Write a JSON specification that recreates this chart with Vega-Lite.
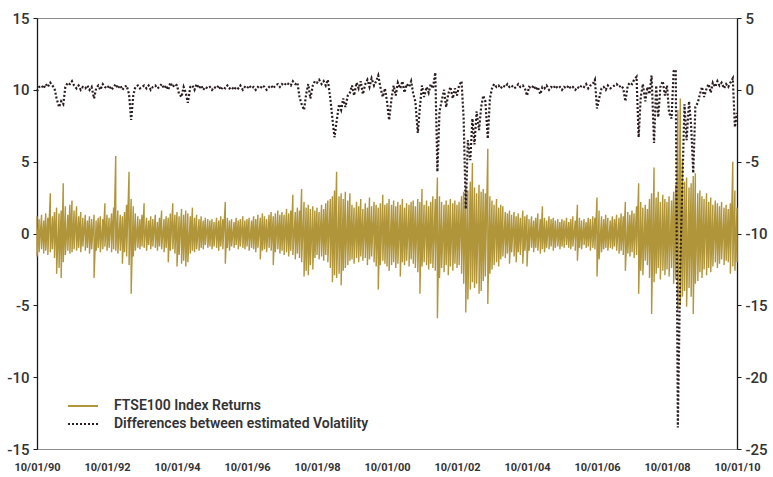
{
  "$schema": "https://vega.github.io/schema/vega-lite/v6.json",
  "width": 700,
  "height": 431,
  "autosize": {"type": "none"},
  "padding": {"left": 37, "top": 18, "right": 36, "bottom": 28},
  "background": "white",
  "config": {
    "font": "Roboto",
    "view": {"stroke": "#8c8c8c", "strokeWidth": 1},
    "axis": {"grid": false, "labelFont": "Roboto", "labelColor": "#333333"},
    "legend": {"labelFont": "Roboto", "labelFontSize": 14, "labelFontWeight": 600, "labelColor": "#333333", "labelLimit": 400}
  },
  "data": {"values": [
{"t":1990.00,"h":1.2,"l":-1.6,"d":-0.1},{"t":1990.06,"h":1.0,"l":-1.3,"d":0.2},{"t":1990.13,"h":1.3,"l":-1.1,"d":0.3},{"t":1990.19,"h":0.9,"l":-1.4,"d":0.1},
{"t":1990.25,"h":1.4,"l":-1.2,"d":0.4},{"t":1990.31,"h":1.1,"l":-1.5,"d":0.2},{"t":1990.38,"h":2.8,"l":-1.3,"d":0.5},{"t":1990.44,"h":1.2,"l":-1.1,"d":0.3},
{"t":1990.50,"h":1.5,"l":-1.7,"d":0.1},{"t":1990.56,"h":1.8,"l":-2.8,"d":-0.6},{"t":1990.63,"h":1.4,"l":-2.4,"d":-1.2},{"t":1990.69,"h":1.6,"l":-3.1,"d":-0.8},
{"t":1990.75,"h":3.5,"l":-2.0,"d":-1.0},{"t":1990.81,"h":1.9,"l":-1.5,"d":0.2},{"t":1990.88,"h":1.3,"l":-1.2,"d":0.5},{"t":1990.94,"h":2.0,"l":-1.4,"d":0.4},
{"t":1991.00,"h":2.3,"l":-1.3,"d":0.6},{"t":1991.06,"h":1.6,"l":-1.1,"d":0.3},{"t":1991.13,"h":1.9,"l":-1.2,"d":0.1},{"t":1991.19,"h":1.2,"l":-1.0,"d":0.3},
{"t":1991.25,"h":1.5,"l":-1.3,"d":0.0},{"t":1991.31,"h":1.1,"l":-0.9,"d":0.2},{"t":1991.38,"h":1.3,"l":-1.2,"d":0.1},{"t":1991.44,"h":0.9,"l":-1.0,"d":0.3},
{"t":1991.50,"h":1.2,"l":-1.4,"d":0.0},{"t":1991.56,"h":1.0,"l":-1.1,"d":0.2},{"t":1991.63,"h":1.3,"l":-3.1,"d":-0.6},{"t":1991.69,"h":0.9,"l":-1.2,"d":0.1},
{"t":1991.75,"h":1.1,"l":-1.0,"d":0.3},{"t":1991.81,"h":1.2,"l":-1.3,"d":0.0},{"t":1991.88,"h":1.0,"l":-1.1,"d":0.4},{"t":1991.94,"h":2.1,"l":-0.9,"d":0.2},
{"t":1992.00,"h":1.3,"l":-1.2,"d":0.1},{"t":1992.06,"h":1.1,"l":-1.0,"d":0.3},{"t":1992.13,"h":1.4,"l":-1.3,"d":0.0},{"t":1992.19,"h":1.8,"l":-1.1,"d":0.2},
{"t":1992.25,"h":5.4,"l":-1.2,"d":0.4},{"t":1992.31,"h":1.6,"l":-1.4,"d":0.1},{"t":1992.38,"h":1.3,"l":-1.2,"d":0.3},{"t":1992.44,"h":1.2,"l":-2.1,"d":0.0},
{"t":1992.50,"h":1.5,"l":-1.3,"d":0.2},{"t":1992.56,"h":2.0,"l":-1.6,"d":0.3},{"t":1992.63,"h":4.3,"l":-2.2,"d":-0.3},{"t":1992.69,"h":2.4,"l":-4.2,"d":-2.1},
{"t":1992.75,"h":1.9,"l":-1.6,"d":-0.4},{"t":1992.81,"h":1.4,"l":-1.2,"d":0.2},{"t":1992.88,"h":1.2,"l":-1.0,"d":0.3},{"t":1992.94,"h":1.0,"l":-1.1,"d":0.1},
{"t":1993.00,"h":1.3,"l":-0.9,"d":0.2},{"t":1993.06,"h":2.1,"l":-1.0,"d":0.3},{"t":1993.13,"h":1.1,"l":-1.2,"d":0.1},{"t":1993.19,"h":0.9,"l":-0.8,"d":0.3},
{"t":1993.25,"h":1.2,"l":-1.1,"d":0.0},{"t":1993.31,"h":1.0,"l":-0.9,"d":0.2},{"t":1993.38,"h":1.3,"l":-1.0,"d":0.3},{"t":1993.44,"h":0.8,"l":-1.2,"d":0.1},
{"t":1993.50,"h":1.1,"l":-0.9,"d":0.2},{"t":1993.56,"h":1.6,"l":-1.1,"d":0.4},{"t":1993.63,"h":1.0,"l":-1.3,"d":0.1},{"t":1993.69,"h":1.2,"l":-1.0,"d":0.3},
{"t":1993.75,"h":1.1,"l":-2.0,"d":0.0},{"t":1993.81,"h":1.4,"l":-1.2,"d":0.5},{"t":1993.88,"h":2.1,"l":-1.1,"d":0.2},{"t":1993.94,"h":1.3,"l":-1.4,"d":0.4},
{"t":1994.00,"h":1.5,"l":-2.3,"d":0.3},{"t":1994.06,"h":1.2,"l":-1.5,"d":-0.3},{"t":1994.13,"h":1.7,"l":-2.1,"d":-0.5},{"t":1994.19,"h":1.3,"l":-1.9,"d":0.2},
{"t":1994.25,"h":1.6,"l":-2.3,"d":-0.2},{"t":1994.31,"h":1.4,"l":-2.0,"d":-0.9},{"t":1994.38,"h":1.2,"l":-1.4,"d":0.2},{"t":1994.44,"h":1.8,"l":-1.2,"d":0.3},
{"t":1994.50,"h":1.1,"l":-1.3,"d":0.0},{"t":1994.56,"h":1.3,"l":-1.1,"d":0.4},{"t":1994.63,"h":1.0,"l":-1.2,"d":0.1},{"t":1994.69,"h":1.2,"l":-1.0,"d":0.3},
{"t":1994.75,"h":0.9,"l":-1.1,"d":0.0},{"t":1994.81,"h":1.1,"l":-0.8,"d":0.2},{"t":1994.88,"h":1.0,"l":-1.0,"d":0.1},{"t":1994.94,"h":0.9,"l":-0.9,"d":0.2},
{"t":1995.00,"h":1.0,"l":-1.1,"d":0.0},{"t":1995.06,"h":0.8,"l":-0.9,"d":0.2},{"t":1995.13,"h":1.1,"l":-1.0,"d":0.1},{"t":1995.19,"h":0.9,"l":-1.2,"d":0.3},
{"t":1995.25,"h":1.2,"l":-0.9,"d":0.0},{"t":1995.31,"h":1.0,"l":-1.1,"d":0.2},{"t":1995.38,"h":2.2,"l":-2.1,"d":0.1},{"t":1995.44,"h":1.1,"l":-1.0,"d":0.3},
{"t":1995.50,"h":0.9,"l":-1.2,"d":0.1},{"t":1995.56,"h":1.0,"l":-0.9,"d":0.2},{"t":1995.63,"h":0.8,"l":-1.0,"d":0.0},{"t":1995.69,"h":1.1,"l":-0.8,"d":0.2},
{"t":1995.75,"h":0.9,"l":-1.1,"d":0.1},{"t":1995.81,"h":1.0,"l":-0.9,"d":0.3},{"t":1995.88,"h":1.2,"l":-1.0,"d":0.0},{"t":1995.94,"h":0.9,"l":-1.1,"d":0.2},
{"t":1996.00,"h":1.0,"l":-0.9,"d":0.1},{"t":1996.06,"h":1.1,"l":-1.2,"d":0.3},{"t":1996.13,"h":0.9,"l":-1.0,"d":0.1},{"t":1996.19,"h":1.2,"l":-1.1,"d":0.2},
{"t":1996.25,"h":1.0,"l":-1.3,"d":0.0},{"t":1996.31,"h":1.3,"l":-1.0,"d":0.2},{"t":1996.38,"h":1.1,"l":-1.8,"d":0.1},{"t":1996.44,"h":1.4,"l":-1.2,"d":0.3},
{"t":1996.50,"h":1.2,"l":-1.1,"d":0.2},{"t":1996.56,"h":1.0,"l":-1.3,"d":0.0},{"t":1996.63,"h":1.3,"l":-1.0,"d":0.2},{"t":1996.69,"h":1.5,"l":-1.2,"d":0.3},
{"t":1996.75,"h":1.2,"l":-2.2,"d":0.1},{"t":1996.81,"h":1.4,"l":-1.3,"d":0.3},{"t":1996.88,"h":1.6,"l":-1.1,"d":0.4},{"t":1996.94,"h":1.3,"l":-1.4,"d":0.2},
{"t":1997.00,"h":1.5,"l":-1.2,"d":0.4},{"t":1997.06,"h":1.3,"l":-1.5,"d":0.3},{"t":1997.13,"h":1.7,"l":-1.3,"d":0.5},{"t":1997.19,"h":1.4,"l":-1.6,"d":0.4},
{"t":1997.25,"h":1.6,"l":-1.2,"d":0.3},{"t":1997.31,"h":2.7,"l":-1.5,"d":0.6},{"t":1997.38,"h":1.5,"l":-1.8,"d":0.4},{"t":1997.44,"h":1.8,"l":-1.4,"d":0.5},
{"t":1997.50,"h":1.6,"l":-1.7,"d":-0.5},{"t":1997.56,"h":3.1,"l":-2.0,"d":-1.0},{"t":1997.63,"h":2.2,"l":-3.0,"d":-1.4},{"t":1997.69,"h":1.8,"l":-2.6,"d":-0.3},
{"t":1997.75,"h":2.0,"l":-2.9,"d":0.4},{"t":1997.81,"h":1.7,"l":-2.2,"d":-0.6},{"t":1997.88,"h":1.9,"l":-2.5,"d":0.3},{"t":1997.94,"h":1.6,"l":-1.7,"d":0.6},
{"t":1998.00,"h":1.8,"l":-1.5,"d":0.5},{"t":1998.06,"h":1.5,"l":-1.8,"d":0.7},{"t":1998.13,"h":2.0,"l":-1.6,"d":0.4},{"t":1998.19,"h":1.7,"l":-1.9,"d":0.6},
{"t":1998.25,"h":2.1,"l":-1.5,"d":0.3},{"t":1998.31,"h":2.3,"l":-2.0,"d":0.7},{"t":1998.38,"h":2.4,"l":-2.4,"d":-0.6},{"t":1998.44,"h":2.6,"l":-3.4,"d":-2.0},
{"t":1998.50,"h":3.0,"l":-2.9,"d":-3.3},{"t":1998.56,"h":4.3,"l":-3.1,"d":-2.2},{"t":1998.63,"h":2.6,"l":-2.8,"d":-1.0},{"t":1998.69,"h":2.8,"l":-3.6,"d":-1.4},
{"t":1998.75,"h":2.4,"l":-2.6,"d":-0.6},{"t":1998.81,"h":2.9,"l":-2.4,"d":-1.2},{"t":1998.88,"h":2.3,"l":-2.2,"d":-0.4},{"t":1998.94,"h":2.8,"l":-1.9,"d":-0.2},
{"t":1999.00,"h":2.0,"l":-1.8,"d":0.3},{"t":1999.06,"h":1.8,"l":-2.1,"d":-0.4},{"t":1999.13,"h":2.2,"l":-1.7,"d":0.5},{"t":1999.19,"h":1.9,"l":-2.0,"d":0.1},
{"t":1999.25,"h":2.4,"l":-1.6,"d":0.6},{"t":1999.31,"h":1.7,"l":-1.9,"d":-0.3},{"t":1999.38,"h":2.1,"l":-1.7,"d":0.4},{"t":1999.44,"h":1.8,"l":-2.2,"d":0.7},
{"t":1999.50,"h":2.5,"l":-1.8,"d":0.2},{"t":1999.56,"h":1.9,"l":-1.6,"d":0.8},{"t":1999.63,"h":2.2,"l":-2.0,"d":0.3},{"t":1999.69,"h":2.0,"l":-2.3,"d":0.6},
{"t":1999.75,"h":1.8,"l":-3.9,"d":1.0},{"t":1999.81,"h":2.1,"l":-2.2,"d":0.2},{"t":1999.88,"h":2.7,"l":-1.9,"d":-0.5},{"t":1999.94,"h":2.0,"l":-2.1,"d":0.1},
{"t":2000.00,"h":2.1,"l":-2.3,"d":-0.8},{"t":2000.06,"h":2.4,"l":-2.6,"d":-2.1},{"t":2000.13,"h":2.0,"l":-2.2,"d":-0.6},{"t":2000.19,"h":2.3,"l":-2.0,"d":0.3},
{"t":2000.25,"h":1.9,"l":-2.4,"d":-0.4},{"t":2000.31,"h":2.2,"l":-2.1,"d":0.5},{"t":2000.38,"h":2.0,"l":-3.0,"d":0.1},{"t":2000.44,"h":2.4,"l":-2.0,"d":0.6},
{"t":2000.50,"h":1.8,"l":-2.2,"d":-0.2},{"t":2000.56,"h":2.1,"l":-1.9,"d":0.4},{"t":2000.63,"h":2.0,"l":-2.3,"d":0.2},{"t":2000.69,"h":2.2,"l":-1.8,"d":0.6},
{"t":2000.75,"h":2.3,"l":-2.1,"d":-0.3},{"t":2000.81,"h":1.9,"l":-2.4,"d":-0.8},{"t":2000.88,"h":2.4,"l":-2.7,"d":-3.0},{"t":2000.94,"h":2.2,"l":-4.2,"d":-1.2},
{"t":2001.00,"h":3.1,"l":-2.3,"d":0.3},{"t":2001.06,"h":2.0,"l":-2.0,"d":-0.5},{"t":2001.13,"h":2.3,"l":-2.2,"d":0.2},{"t":2001.19,"h":1.9,"l":-2.5,"d":-0.2},
{"t":2001.25,"h":2.2,"l":-2.1,"d":0.4},{"t":2001.31,"h":2.6,"l":-2.4,"d":0.1},{"t":2001.38,"h":2.4,"l":-2.6,"d":1.2},{"t":2001.44,"h":3.9,"l":-5.9,"d":-5.7},
{"t":2001.50,"h":2.6,"l":-3.1,"d":-1.5},{"t":2001.56,"h":2.2,"l":-2.4,"d":-0.8},{"t":2001.63,"h":2.0,"l":-2.7,"d":0.0},{"t":2001.69,"h":2.3,"l":-2.2,"d":-1.2},
{"t":2001.75,"h":2.0,"l":-2.9,"d":-0.3},{"t":2001.81,"h":2.4,"l":-2.3,"d":0.2},{"t":2001.88,"h":2.1,"l":-2.6,"d":-0.6},{"t":2001.94,"h":2.3,"l":-2.1,"d":0.1},
{"t":2002.00,"h":2.0,"l":-2.4,"d":-0.4},{"t":2002.06,"h":2.2,"l":-2.2,"d":0.3},{"t":2002.13,"h":2.6,"l":-2.8,"d":0.6},{"t":2002.19,"h":2.9,"l":-3.5,"d":-2.0},
{"t":2002.25,"h":3.2,"l":-5.5,"d":-8.3},{"t":2002.31,"h":3.0,"l":-4.6,"d":-3.5},{"t":2002.38,"h":3.6,"l":-3.9,"d":-4.9},{"t":2002.44,"h":4.9,"l":-3.4,"d":-2.0},
{"t":2002.50,"h":3.2,"l":-3.8,"d":-3.8},{"t":2002.56,"h":2.8,"l":-3.5,"d":-1.5},{"t":2002.63,"h":3.4,"l":-4.2,"d":-2.8},{"t":2002.69,"h":2.9,"l":-4.0,"d":-1.2},
{"t":2002.75,"h":3.1,"l":-3.3,"d":-0.4},{"t":2002.81,"h":2.8,"l":-3.0,"d":-0.8},{"t":2002.88,"h":5.9,"l":-4.9,"d":-3.4},{"t":2002.94,"h":2.6,"l":-2.8,"d":-0.6},
{"t":2003.00,"h":2.3,"l":-2.5,"d":0.1},{"t":2003.06,"h":2.0,"l":-2.2,"d":0.4},{"t":2003.13,"h":2.4,"l":-2.0,"d":0.2},{"t":2003.19,"h":1.8,"l":-2.3,"d":0.3},
{"t":2003.25,"h":2.0,"l":-1.8,"d":0.1},{"t":2003.31,"h":1.9,"l":-1.6,"d":0.3},{"t":2003.38,"h":1.5,"l":-1.7,"d":0.2},{"t":2003.44,"h":1.4,"l":-1.4,"d":0.4},
{"t":2003.50,"h":1.6,"l":-2.1,"d":0.2},{"t":2003.56,"h":1.3,"l":-1.3,"d":0.3},{"t":2003.63,"h":1.5,"l":-1.6,"d":0.1},{"t":2003.69,"h":1.2,"l":-2.0,"d":0.2},
{"t":2003.75,"h":1.4,"l":-1.3,"d":0.4},{"t":2003.81,"h":1.1,"l":-1.5,"d":0.2},{"t":2003.88,"h":1.6,"l":-2.1,"d":0.3},{"t":2003.94,"h":1.2,"l":-1.2,"d":0.1},
{"t":2004.00,"h":1.3,"l":-2.3,"d":-0.4},{"t":2004.06,"h":1.0,"l":-1.2,"d":0.2},{"t":2004.13,"h":1.2,"l":-1.0,"d":0.1},{"t":2004.19,"h":0.9,"l":-1.3,"d":0.3},
{"t":2004.25,"h":1.1,"l":-1.0,"d":0.0},{"t":2004.31,"h":1.4,"l":-1.2,"d":0.2},{"t":2004.38,"h":1.0,"l":-1.4,"d":-0.3},{"t":2004.44,"h":1.9,"l":-1.1,"d":0.2},
{"t":2004.50,"h":1.1,"l":-1.3,"d":0.1},{"t":2004.56,"h":0.9,"l":-1.0,"d":0.3},{"t":2004.63,"h":1.2,"l":-1.1,"d":0.0},{"t":2004.69,"h":1.0,"l":-0.9,"d":0.2},
{"t":2004.75,"h":1.1,"l":-1.2,"d":0.1},{"t":2004.81,"h":0.9,"l":-1.0,"d":0.3},{"t":2004.88,"h":1.0,"l":-0.9,"d":0.1},{"t":2004.94,"h":0.8,"l":-1.1,"d":0.2},
{"t":2005.00,"h":1.0,"l":-0.9,"d":0.0},{"t":2005.06,"h":0.9,"l":-1.0,"d":0.2},{"t":2005.13,"h":1.1,"l":-0.8,"d":0.1},{"t":2005.19,"h":0.8,"l":-1.0,"d":0.3},
{"t":2005.25,"h":1.0,"l":-1.1,"d":0.1},{"t":2005.31,"h":1.2,"l":-0.9,"d":0.2},{"t":2005.38,"h":0.9,"l":-1.2,"d":0.0},{"t":2005.44,"h":2.0,"l":-1.9,"d":0.2},
{"t":2005.50,"h":1.1,"l":-1.0,"d":0.1},{"t":2005.56,"h":0.9,"l":-1.1,"d":0.3},{"t":2005.63,"h":1.0,"l":-0.8,"d":0.2},{"t":2005.69,"h":0.8,"l":-1.0,"d":0.4},
{"t":2005.75,"h":1.1,"l":-0.9,"d":0.1},{"t":2005.81,"h":1.0,"l":-1.2,"d":0.3},{"t":2005.88,"h":1.2,"l":-1.0,"d":0.4},{"t":2005.94,"h":1.1,"l":-1.1,"d":0.7},
{"t":2006.00,"h":2.5,"l":-3.0,"d":-1.3},{"t":2006.06,"h":1.6,"l":-1.8,"d":-0.6},{"t":2006.13,"h":1.2,"l":-1.3,"d":0.1},{"t":2006.19,"h":1.0,"l":-1.1,"d":0.2},
{"t":2006.25,"h":1.3,"l":-1.0,"d":0.0},{"t":2006.31,"h":1.1,"l":-1.2,"d":0.3},{"t":2006.38,"h":0.9,"l":-1.0,"d":0.1},{"t":2006.44,"h":1.2,"l":-1.1,"d":0.2},
{"t":2006.50,"h":1.0,"l":-0.9,"d":0.3},{"t":2006.56,"h":1.3,"l":-1.2,"d":0.4},{"t":2006.63,"h":1.1,"l":-1.4,"d":0.2},{"t":2006.69,"h":1.4,"l":-1.2,"d":0.3},
{"t":2006.75,"h":1.2,"l":-1.5,"d":0.1},{"t":2006.81,"h":2.2,"l":-2.6,"d":-0.8},{"t":2006.88,"h":1.5,"l":-1.4,"d":0.3},{"t":2006.94,"h":1.3,"l":-1.6,"d":0.5},
{"t":2007.00,"h":1.6,"l":-1.3,"d":0.4},{"t":2007.06,"h":1.4,"l":-1.7,"d":0.7},{"t":2007.13,"h":1.9,"l":-1.5,"d":0.9},{"t":2007.19,"h":3.5,"l":-4.2,"d":-3.3},
{"t":2007.25,"h":2.2,"l":-2.6,"d":-0.5},{"t":2007.31,"h":1.8,"l":-2.9,"d":0.4},{"t":2007.38,"h":2.0,"l":-1.9,"d":-0.8},{"t":2007.44,"h":1.7,"l":-2.2,"d":0.2},
{"t":2007.50,"h":2.4,"l":-3.1,"d":-0.3},{"t":2007.56,"h":2.8,"l":-5.6,"d":1.0},{"t":2007.63,"h":4.6,"l":-3.4,"d":-3.7},{"t":2007.69,"h":2.5,"l":-2.8,"d":0.3},
{"t":2007.75,"h":2.9,"l":-2.4,"d":-1.9},{"t":2007.81,"h":2.2,"l":-3.2,"d":0.2},{"t":2007.88,"h":2.7,"l":-2.6,"d":0.6},{"t":2007.94,"h":2.4,"l":-2.9,"d":-0.4},
{"t":2008.00,"h":2.2,"l":-2.5,"d":0.3},{"t":2008.06,"h":2.6,"l":-3.0,"d":-1.6},{"t":2008.13,"h":2.3,"l":-2.4,"d":-2.0},{"t":2008.19,"h":2.9,"l":-3.5,"d":1.3},
{"t":2008.25,"h":3.4,"l":-3.2,"d":1.4},{"t":2008.31,"h":8.6,"l":-5.3,"d":-23.5},{"t":2008.38,"h":9.4,"l":-5.0,"d":-12.0},{"t":2008.44,"h":5.2,"l":-4.4,"d":-6.5},
{"t":2008.50,"h":3.6,"l":-4.0,"d":-1.0},{"t":2008.56,"h":3.9,"l":-5.1,"d":-3.5},{"t":2008.63,"h":3.2,"l":-3.8,"d":-0.8},{"t":2008.69,"h":3.5,"l":-4.4,"d":-2.5},
{"t":2008.75,"h":4.0,"l":-5.6,"d":-5.8},{"t":2008.81,"h":4.2,"l":-3.5,"d":-1.2},{"t":2008.88,"h":2.8,"l":-3.3,"d":-0.9},{"t":2008.94,"h":3.0,"l":-2.7,"d":-0.3},
{"t":2009.00,"h":2.6,"l":-3.1,"d":0.2},{"t":2009.06,"h":2.4,"l":-2.5,"d":-0.5},{"t":2009.13,"h":2.8,"l":-2.9,"d":0.1},{"t":2009.19,"h":2.2,"l":-2.4,"d":0.4},
{"t":2009.25,"h":2.5,"l":-2.7,"d":-0.2},{"t":2009.31,"h":2.0,"l":-2.3,"d":0.5},{"t":2009.38,"h":2.3,"l":-2.0,"d":0.2},{"t":2009.44,"h":2.1,"l":-2.4,"d":0.6},
{"t":2009.50,"h":1.9,"l":-2.1,"d":0.3},{"t":2009.56,"h":2.2,"l":-1.8,"d":0.5},{"t":2009.63,"h":1.8,"l":-2.2,"d":0.1},{"t":2009.69,"h":2.0,"l":-1.9,"d":0.4},
{"t":2009.75,"h":1.7,"l":-2.0,"d":0.2},{"t":2009.81,"h":2.1,"l":-2.8,"d":0.5},{"t":2009.88,"h":5.0,"l":-2.3,"d":0.8},{"t":2009.94,"h":3.0,"l":-2.6,"d":-2.6},
{"t":2010.00,"h":1.8,"l":-2.0,"d":-1.6}
  ]},
  "encoding": {
    "x": {
      "field": "t", "type": "quantitative",
      "scale": {"domain": [1990, 2010], "nice": false, "zero": false},
      "axis": {
        "title": null, "values": [1990,1992,1994,1996,1998,2000,2002,2004,2006,2008,2010],
        "labelExpr": "'10/01/' + format(datum.value % 100, '02d')",
        "ticks": false, "domain": false, "labelFontSize": 11, "labelFontWeight": "bold",
        "labelPadding": 12, "labelFlush": false
      }
    }
  },
  "layer": [
    {
      "transform": [{"fold": ["h", "l"], "as": ["side", "r"]}],
      "mark": {"type": "line", "strokeWidth": 1.4, "interpolate": "linear"},
      "encoding": {
        "y": {
          "field": "r", "type": "quantitative",
          "scale": {"domain": [-15, 15], "nice": false, "zero": false},
          "axis": {
            "orient": "left", "title": null, "values": [-15,-10,-5,0,5,10,15],
            "labelExpr": "'' + datum.value",
            "domainColor": "#1a1a1a", "domainWidth": 1.3, "tickColor": "#1a1a1a", "tickSize": 4,
            "labelFontSize": 15, "labelFontWeight": 500, "labelPadding": 4
          }
        },
        "color": {
          "datum": "FTSE100 Index Returns",
          "scale": {"domain": ["FTSE100 Index Returns", "Differences between estimated Volatility"], "range": ["#B0953B", "#2b1d1f"]},
          "legend": {
            "title": null, "orient": "none", "legendX": 39, "legendY": 381,
            "symbolType": "M-3,0L3,0", "symbolSize": 100, "symbolStrokeWidth": 2,
            "labelOffset": 24, "rowPadding": 4
          }
        },
        "strokeDash": {
          "datum": "FTSE100 Index Returns",
          "scale": {"domain": ["FTSE100 Index Returns", "Differences between estimated Volatility"], "range": [[1, 0], [2, 2]]},
          "legend": {
            "title": null, "orient": "none", "legendX": 39, "legendY": 381,
            "symbolType": "M-3,0L3,0", "symbolSize": 100, "symbolStrokeWidth": 2,
            "labelOffset": 24, "rowPadding": 4
          }
        }
      }
    },
    {
      "mark": {"type": "line", "strokeWidth": 2.2, "interpolate": "linear"},
      "encoding": {
        "y": {
          "field": "d", "type": "quantitative",
          "scale": {"domain": [-25, 5], "nice": false, "zero": false},
          "axis": {
            "orient": "right", "title": null, "values": [-25,-20,-15,-10,-5,0,5],
            "labelExpr": "'' + datum.value",
            "domainColor": "#1a1a1a", "domainWidth": 1.3, "tickColor": "#1a1a1a", "tickSize": 4,
            "labelFontSize": 15, "labelFontWeight": 500, "labelPadding": 4
          }
        },
        "color": {"datum": "Differences between estimated Volatility"},
        "strokeDash": {"datum": "Differences between estimated Volatility"}
      }
    }
  ],
  "resolve": {"scale": {"y": "independent"}}
}
